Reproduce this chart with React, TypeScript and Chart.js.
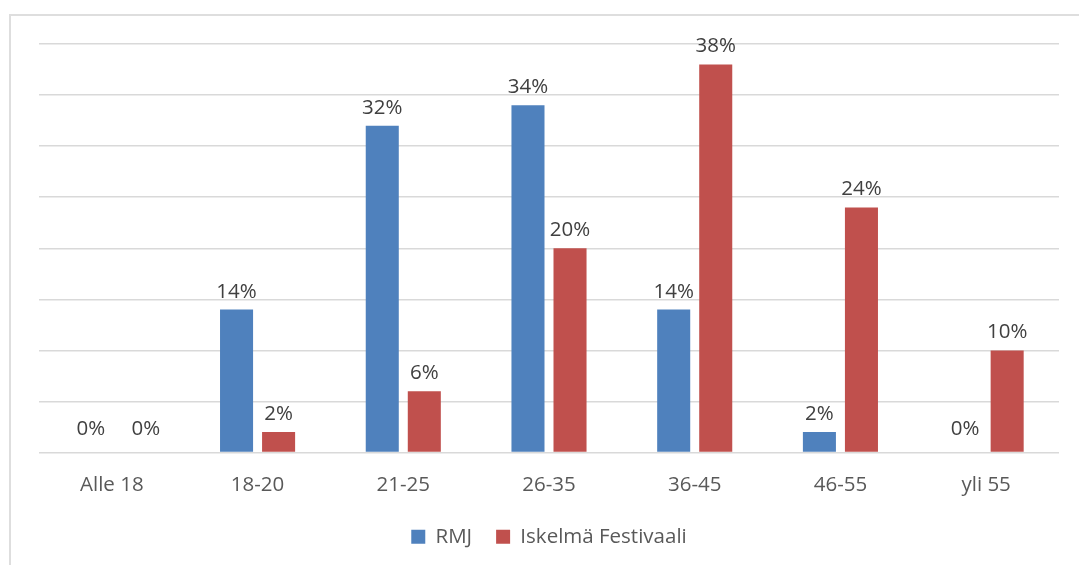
import React, { useEffect, useRef } from "react";
import { Chart, registerables } from "chart.js";

Chart.register(...registerables);

const categories = ["Alle 18", "18-20", "21-25", "26-35", "36-45", "46-55", "yli 55"];
const rmjValues = [0, 14, 32, 34, 14, 2, 0];
const iskelmaValues = [0, 2, 6, 20, 38, 24, 10];
const seriesNames = ["RMJ", "Iskelmä Festivaali"];
const seriesColors = ["#4F81BD", "#C0504D"];

const FONT = "'Open Sans', sans-serif";
const FSIZE = 20.5;

const valueLabels = {
  id: "valueLabels",
  afterDatasetsDraw(chart: any) {
    const ctx = chart.ctx;
    ctx.save();
    ctx.font = `${FSIZE}px ${FONT}`;
    ctx.fillStyle = "#404040";
    ctx.textAlign = "center";
    ctx.textBaseline = "alphabetic";
    const lastZeroX: Record<number, number> = {};
    chart.data.datasets.forEach((ds: any, i: number) => {
      const meta = chart.getDatasetMeta(i);
      meta.data.forEach((bar: any, j: number) => {
        const v = ds.data[j];
        const off = v === 0 ? 18 : 12;
        let x = bar.x;
        if (v === 0) {
          // spread adjacent zero labels like the source chart's label layout
          if (lastZeroX[j] !== undefined && x - lastZeroX[j] < 55) x = lastZeroX[j] + 55;
          lastZeroX[j] = x;
        }
        ctx.fillText(`${v}%`, x, bar.y - off);
      });
    });
    ctx.restore();
  },
};

export default function App() {
  const ref = useRef<HTMLCanvasElement>(null);
  useEffect(() => {
    if (!ref.current) return;
    const chart = new Chart(ref.current, {
      type: "bar",
      data: {
        labels: categories,
        datasets: [
          { label: seriesNames[0], data: rmjValues, backgroundColor: seriesColors[0] },
          { label: seriesNames[1], data: iskelmaValues, backgroundColor: seriesColors[1] },
        ],
      },
      options: {
        animation: false,
        responsive: false,
        maintainAspectRatio: false,
        layout: { padding: { left: 39, right: 20, top: 44, bottom: 8 } },
        datasets: {
          bar: { categoryPercentage: 0.577, barPercentage: 0.786 },
        },
        scales: {
          x: {
            grid: { display: false, drawTicks: false },
            border: { display: false },
            ticks: { color: "#595959", font: { family: FONT, size: FSIZE }, padding: 20 },
            afterFit: (s: any) => {
              s.height = 50;
            },
          },
          y: {
            min: 0,
            max: 40,
            ticks: { display: false, stepSize: 5 },
            grid: { color: "#d9d9d9", lineWidth: 1.5, drawTicks: false },
            border: { display: false },
            afterFit: (s: any) => {
              s.width = 0;
            },
          },
        },
        plugins: {
          legend: {
            position: "bottom",
            labels: {
              color: "#595959",
              font: { family: FONT, size: FSIZE },
              boxWidth: 14,
              boxHeight: 14,
              padding: 24,
            },
          },
          tooltip: { enabled: false },
        },
      },
      plugins: [valueLabels],
    });
    return () => chart.destroy();
  }, []);
  return (
    <div style={{ position: "fixed", left: 0, top: 0, width: 1079, height: 565, background: "#fff" }}>
      <div
        style={{
          position: "absolute",
          left: 9,
          top: 14,
          width: 1080,
          height: 560,
          border: "2px solid #dedede",
          boxSizing: "border-box",
        }}
      />
      <canvas ref={ref} width={1079} height={565} style={{ position: "absolute", left: 0, top: 0 }} />
    </div>
  );
}
